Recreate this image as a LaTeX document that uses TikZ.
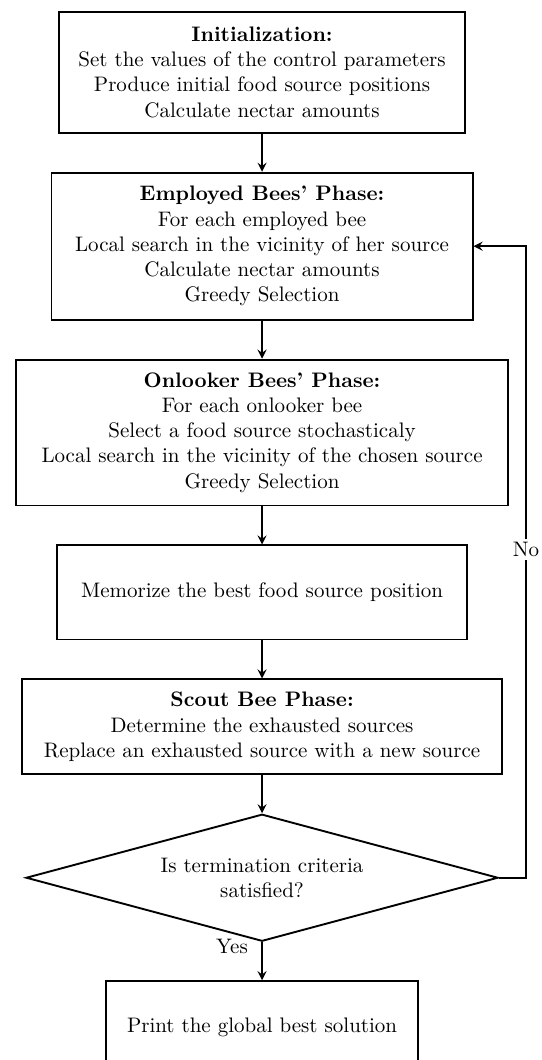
\documentclass[tikz,border=0pt]{standalone}
\usepackage{tikz}
\usetikzlibrary{positioning,arrows,shapes.geometric}

\begin{document}
\begin{tikzpicture}[node distance=18.1pt,
		block/.style={draw, line width=0.9pt, align=center, inner sep=0pt},
		decision/.style={draw, line width=0.9pt, diamond, aspect=3.7, align=center, inner sep=0pt},
		flow/.style={draw, line width=0.9pt, -stealth}]
		\useasboundingbox (0,0) rectangle (258.1pt,-504.8pt);
		
		\node (init) [block, anchor=north, minimum width=193.3pt, minimum height=57.6pt] at (124.8pt,-5.2pt)
			{\textbf{Initialization:}\\Set the values of the control parameters\\Produce initial food source positions\\Calculate nectar amounts};
		\node (emp)  [block, below=of init, minimum width=200.5pt, minimum height=70pt]
			{\textbf{Employed Bees' Phase:}\\For each employed bee\\Local search in the vicinity of her source\\Calculate nectar amounts\\Greedy Selection};
		\node (onl)  [block, below=of emp, minimum width=234.3pt, minimum height=69.5pt]
			{\textbf{Onlooker Bees' Phase:}\\For each onlooker bee\\Select a food source stochasticaly\\Local search in the vicinity of the chosen source\\Greedy Selection};
		\node (mem)  [block, below=of onl, minimum width=195.2pt, minimum height=44.8pt]
			{Memorize the best food source position};
		\node (sct)  [block, below=of mem, minimum width=228.6pt, minimum height=45.2pt]
			{\textbf{Scout Bee Phase:}\\Determine the exhausted sources\\Replace an exhausted source with a new source};
		\node (dia)  [decision, below=of sct, minimum width=224.8pt, minimum height=60.5pt]
			{Is termination criteria\\satisfied?};
		\node (prt)  [block, below=of dia, minimum width=148.6pt, minimum height=44.3pt]
			{Print the global best solution};
		\coordinate [right=12.8pt of dia.east] (ret);
		
		\draw[flow] (init) -- (emp);
		\draw[flow] (emp) -- (onl);
		\draw[flow] (onl) -- (mem);
		\draw[flow] (mem) -- (sct);
		\draw[flow] (sct) -- (dia);
		\draw[flow] (dia) -- node[left, pos=0.12, xshift=-3pt] {Yes} (prt);
		\draw[flow] (dia.east) -- (ret) |- node[fill=white, pos=0.26, inner sep=1.5pt] {No} (emp.east);
	\end{tikzpicture}
\end{document}
